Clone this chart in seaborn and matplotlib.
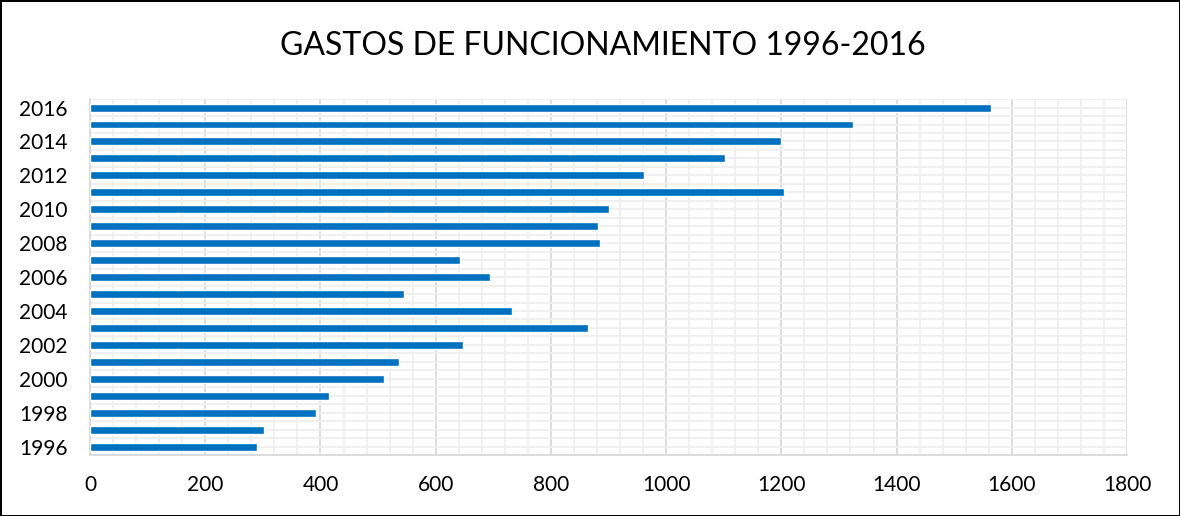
import pandas as pd
import seaborn as sns
import matplotlib.pyplot as plt
from matplotlib.ticker import MultipleLocator

years = [2016, 2015, 2014, 2013, 2012, 2011, 2010, 2009, 2008, 2007, 2006,
         2005, 2004, 2003, 2002, 2001, 2000, 1999, 1998, 1997, 1996]
gastos = [1564, 1324, 1200, 1103, 962, 1204, 901, 881, 886, 642, 694,
          545, 733, 864, 647, 536, 510, 415, 393, 302, 290]
x_ticks = [0, 200, 400, 600, 800, 1000, 1200, 1400, 1600, 1800]
title = "GASTOS DE FUNCIONAMIENTO 1996-2016"

sns.set_theme(style="white")
plt.rcParams['font.family'] = ['Lato', 'DejaVu Sans']
plt.rcParams['text.color'] = 'black'
plt.rcParams['xtick.color'] = 'black'
plt.rcParams['ytick.color'] = 'black'

df = pd.DataFrame({"year": [str(y) for y in years], "gastos": gastos})

fig = plt.figure(figsize=(11.8, 5.16), dpi=100, edgecolor="black", linewidth=2)
ax = fig.add_axes([0.0763, 0.118, 0.8788, 0.690])

sns.barplot(data=df, x="gastos", y="year", order=df["year"], orient="h",
            color="#0070C0", saturation=1, width=0.47, ax=ax, zorder=3)

ax.set_xlim(0, 1800)
ax.set_ylim(20.5, -0.5)
ax.set_xticks(x_ticks)
ax.set_xticklabels([str(t) for t in x_ticks], fontsize=15)
ax.set_yticks(range(len(years)))
ax.set_yticklabels([str(y) if y % 2 == 0 else "" for y in years], fontsize=15)
ax.xaxis.set_minor_locator(MultipleLocator(40))
ax.yaxis.set_minor_locator(MultipleLocator(0.5))
ax.tick_params(axis="both", which="both", length=0)
ax.tick_params(axis="x", pad=14)
ax.tick_params(axis="y", pad=16)

ax.grid(axis="x", which="major", color="#d9d9d9", linewidth=1.3, zorder=1)
ax.grid(axis="x", which="minor", color="#efefef", linewidth=1.3, zorder=0)
ax.grid(axis="y", which="both", color="#efefef", linewidth=1.3, zorder=0)
ax.set_axisbelow(True)

for s in ["top", "right"]:
    ax.spines[s].set_visible(False)
for s in ["left", "bottom"]:
    ax.spines[s].set_color("#d9d9d9")
    ax.spines[s].set_linewidth(1.3)

ax.set_xlabel("")
ax.set_ylabel("")
fig.text(0.511, 0.91, title, ha="center", va="center", fontsize=23, color="black")

fig.savefig("out.png", dpi=100)
